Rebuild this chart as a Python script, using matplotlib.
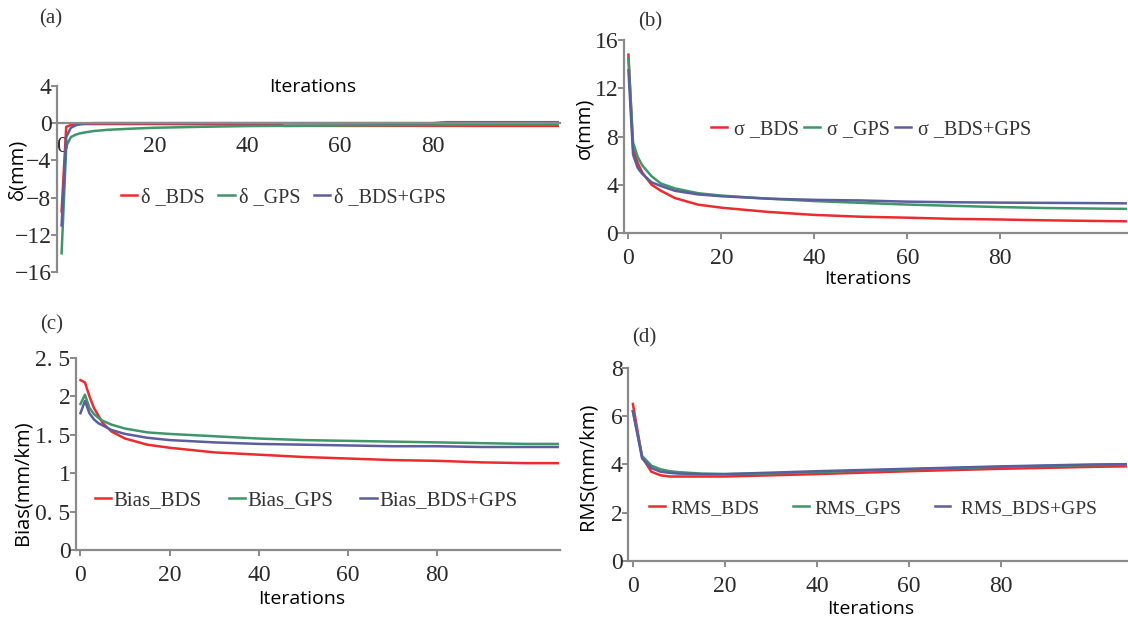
import matplotlib.pyplot as plt

# sampled iterations (lines are drawn through these points)
it_a = [0, 1, 2, 3, 4, 5, 7, 10, 15, 20, 30, 40, 47, 48, 60, 70, 80, 83, 90, 100, 107]
delta_bds = [-9.5, -0.4, -0.2, -0.15, -0.12, -0.1, -0.1, -0.1, -0.1, -0.1, -0.12, -0.15, -0.15, -0.3, -0.3, -0.3, -0.3, -0.3, -0.3, -0.3, -0.3]
delta_gps = [-14.0, -2.5, -1.5, -1.25, -1.1, -1.0, -0.85, -0.72, -0.6, -0.5, -0.4, -0.32, -0.3, -0.3, -0.26, -0.23, -0.2, -0.2, -0.18, -0.15, -0.14]
delta_both = [-11.0, -1.5, -0.5, -0.25, -0.1, -0.05, 0.0, 0.0, 0.0, 0.0, 0.0, 0.0, 0.0, 0.0, 0.0, 0.0, 0.0, 0.1, 0.1, 0.1, 0.1]

it_b = [0, 1, 2, 3, 5, 7, 10, 15, 20, 30, 40, 50, 60, 70, 80, 90, 100, 107]
sigma_bds = [14.8, 7.0, 5.8, 5.0, 4.0, 3.5, 2.9, 2.35, 2.1, 1.75, 1.5, 1.35, 1.27, 1.17, 1.12, 1.05, 1.0, 0.97]
sigma_gps = [14.5, 7.5, 6.3, 5.6, 4.7, 4.1, 3.7, 3.3, 3.1, 2.85, 2.65, 2.5, 2.36, 2.25, 2.15, 2.07, 2.03, 2.0]
sigma_both = [13.5, 6.5, 5.4, 4.9, 4.2, 3.9, 3.5, 3.2, 3.05, 2.85, 2.75, 2.7, 2.6, 2.55, 2.52, 2.5, 2.48, 2.46]

it_c = [0, 1, 2, 3, 4, 5, 7, 10, 15, 20, 30, 40, 50, 60, 70, 80, 90, 100, 107]
bias_bds = [2.21, 2.18, 2.0, 1.85, 1.75, 1.65, 1.54, 1.45, 1.37, 1.33, 1.27, 1.24, 1.21, 1.19, 1.17, 1.16, 1.14, 1.13, 1.13]
bias_gps = [1.9, 2.02, 1.85, 1.77, 1.72, 1.68, 1.63, 1.58, 1.53, 1.51, 1.48, 1.45, 1.43, 1.42, 1.41, 1.40, 1.39, 1.38, 1.38]
bias_both = [1.78, 1.94, 1.78, 1.70, 1.65, 1.62, 1.56, 1.51, 1.46, 1.43, 1.40, 1.38, 1.37, 1.36, 1.35, 1.35, 1.34, 1.34, 1.34]

it_d = [0, 2, 4, 6, 8, 10, 15, 20, 30, 40, 50, 60, 70, 80, 90, 100, 107]
rms_bds = [6.5, 4.3, 3.7, 3.55, 3.5, 3.5, 3.5, 3.5, 3.55, 3.6, 3.66, 3.72, 3.77, 3.82, 3.86, 3.9, 3.92]
rms_gps = [6.2, 4.35, 3.95, 3.8, 3.72, 3.68, 3.62, 3.6, 3.63, 3.68, 3.74, 3.8, 3.85, 3.9, 3.94, 3.97, 3.99]
rms_both = [6.2, 4.25, 3.85, 3.7, 3.65, 3.62, 3.6, 3.6, 3.66, 3.72, 3.77, 3.82, 3.87, 3.92, 3.96, 4.0, 4.01]

x_ticks = [0, 20, 40, 60, 80]
a_yticks = [-16, -12, -8, -4, 0, 4]
a_yticklabels = ['−16', '−12', '−8', '−4', '0', '4']
b_yticks = [0, 4, 8, 12, 16]
c_yticks = [0, 0.5, 1, 1.5, 2, 2.5]
c_yticklabels = ['0', '0. 5', '1', '1. 5', '2', '2. 5']
d_yticks = [0, 2, 4, 6, 8]

RED = '#ec2b2e'
GREEN = '#3f9669'
BLUE = '#5b5e9e'
GRAY = '#8a8a8a'
SANS = 'Open Sans'

plt.rcParams['font.family'] = ['Liberation Serif', 'DejaVu Serif']

fig = plt.figure(figsize=(11.28, 6.18), dpi=100)


def style(ax, yticks, ylim, yticklabels=None):
    for s in ['top', 'right']:
        ax.spines[s].set_visible(False)
    for s in ['left', 'bottom']:
        ax.spines[s].set_color(GRAY)
        ax.spines[s].set_linewidth(1.6)
    ax.set_xlim(-1, 107.5)
    ax.set_ylim(*ylim)
    ax.set_xticks(x_ticks)
    ax.set_yticks(yticks)
    if yticklabels is not None:
        ax.set_yticklabels(yticklabels)
    ax.tick_params(colors=GRAY, length=4, width=1.4, labelcolor='#2a2a2a', labelsize=17, pad=0)
    ax.tick_params(axis='x', pad=7)


def labels(ax, ylab, xpos, ypos):
    ax.set_xlabel('Iterations', fontfamily=SANS, fontsize=14)
    ax.set_ylabel(ylab, fontfamily=SANS, fontsize=14.5)
    ax.xaxis.set_label_coords(*xpos)
    ax.yaxis.set_label_coords(*ypos)


def legend(ax, x, y, colspace, fs=14.5, pad=0.2):
    leg = ax.legend(loc='center', bbox_to_anchor=(x, y), ncol=3, frameon=False,
                    handlelength=0.8, handletextpad=pad, columnspacing=colspace,
                    prop={'size': fs})
    for t in leg.get_texts():
        t.set_color('#333333')


# (a)
ax = fig.add_axes([0.0505, 0.560, 0.446, 0.301])
ax.plot(it_a, delta_bds, color=RED, lw=1.8, label='δ _BDS')
ax.plot(it_a, delta_gps, color=GREEN, lw=1.8, label='δ _GPS')
ax.plot(it_a, delta_both, color=BLUE, lw=1.8, label='δ _BDS+GPS')
style(ax, a_yticks, (-16, 4), a_yticklabels)
ax.spines['bottom'].set_position(('data', 0))
ax.tick_params(axis='x', length=0, pad=9)
labels(ax, 'δ(mm)', (0.509, 1.045), (-0.058, 0.55))
legend(ax, 0.45, 0.40, 0.7)
fig.text(0.035, 0.97, '(a)', fontsize=15, va='center', color='#333333')

# (b)
ax = fig.add_axes([0.553, 0.623, 0.447, 0.312])
ax.plot(it_b, sigma_bds, color=RED, lw=1.8, label='σ _BDS')
ax.plot(it_b, sigma_gps, color=GREEN, lw=1.8, label='σ _GPS')
ax.plot(it_b, sigma_both, color=BLUE, lw=1.8, label='σ _BDS+GPS')
style(ax, b_yticks, (0, 16))
labels(ax, 'σ(mm)', (0.484, -0.19), (-0.058, 0.544))
legend(ax, 0.49, 0.535, 0.25, pad=0.35)
fig.text(0.566, 0.964, '(b)', fontsize=15, va='center', color='#333333')

# (c)
ax = fig.add_axes([0.0674, 0.110, 0.429, 0.311])
ax.plot(it_c, bias_bds, color=RED, lw=1.8, label='Bias_BDS')
ax.plot(it_c, bias_gps, color=GREEN, lw=1.8, label='Bias_GPS')
ax.plot(it_c, bias_both, color=BLUE, lw=1.8, label='Bias_BDS+GPS')
style(ax, c_yticks, (0, 2.5), c_yticklabels)
labels(ax, 'Bias(mm/km)', (0.467, -0.21), (-0.089, 0.35))
legend(ax, 0.475, 0.26, 1.3, fs=15, pad=0.1)
fig.text(0.036, 0.474, '(c)', fontsize=15, va='center', color='#333333')

# (d)
ax = fig.add_axes([0.557, 0.092, 0.443, 0.313])
ax.plot(it_d, rms_bds, color=RED, lw=1.8, label='RMS_BDS')
ax.plot(it_d, rms_gps, color=GREEN, lw=1.8, label='RMS_GPS')
ax.plot(it_d, rms_both, color=BLUE, lw=1.8, label=' RMS_BDS+GPS')
style(ax, d_yticks, (0, 8))
labels(ax, 'RMS(mm/km)', (0.486, -0.2), (-0.062, 0.49))
legend(ax, 0.49, 0.275, 1.7, fs=14, pad=0.3)
fig.text(0.560, 0.453, '(d)', fontsize=15, va='center', color='#333333')

fig.savefig('out.png', dpi=100)
